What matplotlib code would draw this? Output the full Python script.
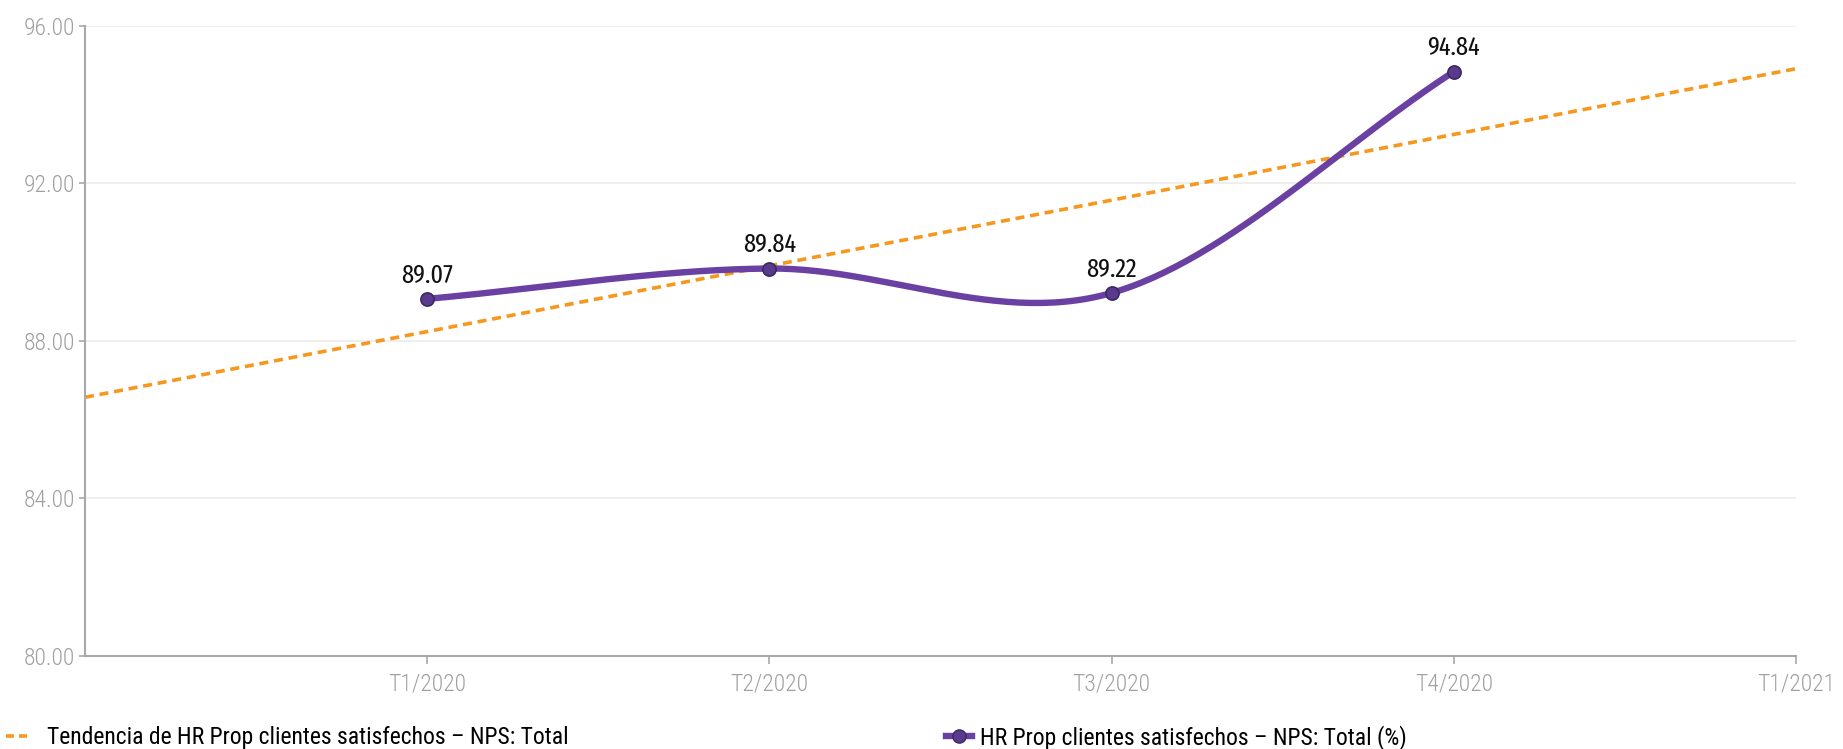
import numpy as np
import matplotlib
matplotlib.use("Agg")
from matplotlib import pyplot as plt
from matplotlib.lines import Line2D

plt.rcParams['font.family'] = ['Roboto Condensed', 'DejaVu Sans']

periods = ["T1/2020", "T2/2020", "T3/2020", "T4/2020", "T1/2021"]
values = [89.07, 89.84, 89.22, 94.84]
y_ticks = [80, 84, 88, 92, 96]

series_label = "HR Prop clientes satisfechos – NPS: Total (%)"
trend_label = "Tendencia de HR Prop clientes satisfechos – NPS: Total"

purple = "#6a40a3"
orange = "#f5981d"
grey = "#a8a8a8"
label_font = ['Fira Sans Extra Condensed', 'Roboto Condensed', 'DejaVu Sans']


def catmull_rom(xs, ys, n=60):
    # smooth curve through the points, tangents from the neighbours
    xs = np.asarray(xs, float)
    ys = np.asarray(ys, float)
    m = np.zeros_like(ys)
    m[1:-1] = (ys[2:] - ys[:-2]) / (xs[2:] - xs[:-2])
    m[0] = (ys[1] - ys[0]) / (xs[1] - xs[0])
    m[-1] = (ys[-1] - ys[-2]) / (xs[-1] - xs[-2])
    out_x, out_y = [], []
    for i in range(len(xs) - 1):
        h = xs[i + 1] - xs[i]
        t = np.linspace(0, 1, n)
        h00 = 2 * t**3 - 3 * t**2 + 1
        h10 = t**3 - 2 * t**2 + t
        h01 = -2 * t**3 + 3 * t**2
        h11 = t**3 - t**2
        out_x.append(xs[i] + t * h)
        out_y.append(h00 * ys[i] + h10 * h * m[i] + h01 * ys[i + 1] + h11 * h * m[i + 1])
    return np.concatenate(out_x), np.concatenate(out_y)


x = np.arange(len(values))
sx, sy = catmull_rom(x, values)

slope, inter = np.polyfit(x, values, 1)
tx = np.array([-1, len(periods) - 1])
ty = slope * tx + inter

fig = plt.figure(figsize=(18.43, 7.49), dpi=100)
ax = fig.add_axes([0.0461, 0.1242, 0.9284, 0.8411])

for yv in y_ticks[1:]:
    ax.axhline(yv, color="#ebebeb", lw=1.2, zorder=0)

ax.plot(tx, ty, color=orange, lw=2.6, dashes=(2.5, 1.6), zorder=2)
ax.plot(sx, sy, color=purple, lw=4.6, solid_capstyle="round", zorder=3)
ax.plot(x, values, ls="none", marker="o", ms=9.5, mfc="#5a3a8f",
        mec="#3a2a5e", mew=1.2, zorder=4)

for xi, v in zip(x, values):
    ax.annotate(f"{v:.2f}", (xi, v), xytext=(0, 8), textcoords="offset points",
                ha="center", va="bottom", fontsize=19, color="#111111",
                family=label_font, zorder=5)

ax.set_xlim(-1, len(periods) - 1)
ax.set_ylim(80, 96)
ax.set_xticks(np.arange(len(periods)))
ax.set_xticklabels(periods)
ax.set_yticks(y_ticks)
ax.set_yticklabels([f"{v:.2f}" for v in y_ticks])

for s in ["top", "right"]:
    ax.spines[s].set_visible(False)
for s in ["left", "bottom"]:
    ax.spines[s].set_color(grey)
    ax.spines[s].set_linewidth(1.5)

ax.tick_params(axis="y", length=4, width=1.2, color=grey, labelcolor="#a0a0a0",
               labelsize=17, pad=3)
ax.tick_params(axis="x", length=6, width=1.2, color=grey, labelcolor="#a0a0a0",
               labelsize=17, pad=6)
for lab in ax.get_xticklabels() + ax.get_yticklabels():
    lab.set_fontweight("light")

h_trend = Line2D([], [], color=orange, lw=2.6, dashes=(2.2, 1.4))
h_series = Line2D([], [], color=purple, lw=4.6, marker="o", ms=9.5,
                  mfc="#5a3a8f", mec="#3a2a5e")
fig.legend(handles=[h_trend], labels=[trend_label], loc="center left",
           bbox_to_anchor=(-0.0083, 0.015), frameon=False, fontsize=17,
           handlelength=1.0, handletextpad=0.74)
fig.legend(handles=[h_series], labels=[series_label], loc="center left",
           bbox_to_anchor=(0.5017, 0.015), frameon=False, fontsize=17,
           handlelength=1.1, handletextpad=0.34)

fig.savefig("out.png", dpi=100)
